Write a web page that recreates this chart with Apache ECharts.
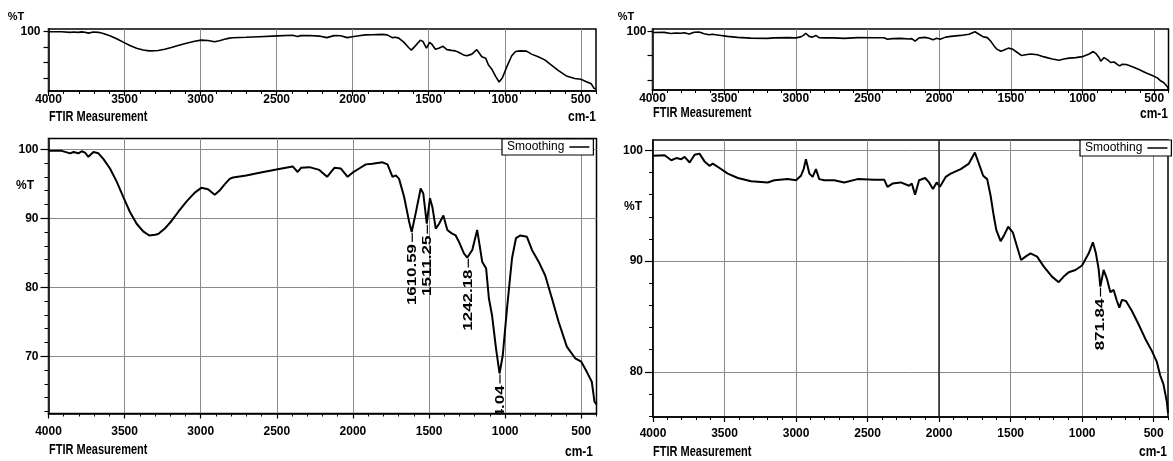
<!DOCTYPE html>
<html>
<head>
<meta charset="utf-8">
<script src="https://cdn.jsdelivr.net/npm/echarts@6/dist/echarts.min.js"></script>
<style>
  html, body { margin: 0; padding: 0; background: #fff; }
  #main { width: 1173px; height: 461px; }
</style>
</head>
<body>
<div id="main"></div>
<script>
// sample A (left spectra), wavenumber cm-1 and %T
var waveA = [4000, 3913, 3858, 3836, 3803, 3782, 3760, 3738, 3705, 3672, 3640, 3596, 3552, 3509, 3465, 3421,
  3378, 3338, 3300, 3279, 3236, 3192, 3148, 3094, 3039, 2996, 2952, 2908, 2876, 2843, 2810, 2788, 2701, 2614,
  2494, 2396, 2363, 2341, 2286, 2221, 2170, 2122, 2079, 2035, 2003, 1959, 1915, 1872, 1806, 1773, 1740, 1718,
  1697, 1664, 1631, 1614, 1588, 1555, 1538, 1515, 1494, 1478, 1456, 1434, 1406, 1380, 1351, 1325, 1304, 1271,
  1249, 1216, 1184, 1168, 1151, 1125, 1107, 1086, 1060, 1037, 1016, 988, 955, 929, 900, 857, 824, 780, 737,
  693, 649, 595, 540, 500, 463, 431, 413, 400];
var transA = [99.76, 99.76, 99.4, 99.6, 99.4, 99.7, 99.5, 98.9, 99.6, 99.4, 98.6, 97.2, 95.3, 93.1, 90.9, 89.2,
  88.1, 87.5, 87.6, 87.7, 88.5, 89.6, 90.9, 92.4, 93.7, 94.4, 94.2, 93.4, 94.0, 94.9, 95.7, 95.9, 96.2, 96.6,
  97.1, 97.5, 96.7, 97.3, 97.4, 97.0, 96.0, 97.3, 97.2, 96.0, 96.6, 97.2, 97.8, 97.9, 98.1, 97.8, 96.0, 96.2,
  95.7, 93.1, 89.5, 88.0, 90.7, 94.3, 93.6, 89.2, 92.9, 91.6, 88.5, 89.2, 90.4, 88.3, 87.8, 87.5, 86.6, 84.9,
  84.3, 85.4, 88.3, 86.1, 83.7, 82.7, 78.4, 75.9, 71.1, 67.5, 70.1, 76.9, 84.2, 87.1, 87.5, 87.3, 85.4, 83.7, 81.7,
  78.4, 75.0, 71.4, 69.7, 69.2, 67.7, 66.3, 63.4, 63.0];

// sample B (right spectra)
var waveB = [4000, 3919, 3872, 3837, 3802, 3779, 3744, 3709, 3675, 3640, 3605, 3582, 3535, 3477, 3407, 3314,
  3198, 3152, 3059, 3000, 2966, 2947, 2931, 2907, 2884, 2861, 2838, 2803, 2733, 2663, 2570, 2454, 2384, 2361,
  2326, 2268, 2210, 2191, 2168, 2140, 2098, 2070, 2043, 2017, 1994, 1954, 1919, 1849, 1792, 1750, 1722, 1692,
  1664, 1640, 1617, 1600, 1570, 1547, 1517, 1485, 1455, 1427, 1396, 1361, 1315, 1268, 1211, 1164, 1129, 1094,
  1047, 1001, 954, 925, 904, 885, 873, 850, 827, 803, 780, 757, 740, 722, 694, 652, 606, 559, 513, 478, 455,
  432, 408, 400];
var transB = [99.5, 99.55, 99.1, 99.3, 99.2, 99.4, 98.9, 99.6, 99.7, 99.0, 98.6, 98.8, 98.4, 97.9, 97.5, 97.2,
  97.1, 97.3, 97.4, 97.3, 97.7, 98.3, 99.2, 97.9, 97.6, 98.3, 97.4, 97.3, 97.3, 97.1, 97.4, 97.35, 97.35, 96.7,
  97.0, 97.1, 96.8, 97.0, 96.0, 97.3, 97.5, 97.1, 96.5, 97.1, 96.7, 97.6, 97.9, 98.3, 98.8, 99.8, 98.8, 97.7,
  97.4, 95.9, 94.0, 92.8, 91.8, 92.3, 93.1, 92.6, 91.3, 90.1, 90.4, 90.7, 90.4, 89.5, 88.6, 88.1, 88.6, 89.0,
  89.2, 89.6, 90.7, 91.7, 90.7, 89.3, 87.7, 89.2, 88.4, 87.2, 87.4, 86.4, 85.8, 86.5, 86.4, 85.5, 84.3, 83.0, 81.9, 80.9, 79.7,
  78.9, 77.3, 76.3];

// peak labels
var peakWaveA = [1610.59, 1511.25, 1242.18, 1034.04];
var peakTA = [88.0, 89.2, 84.3, 67.5];
var peakWaveB = [871.84];
var peakTB = [87.7];

// ticks
var xLabels = [4000, 3500, 3000, 2500, 2000, 1500, 1000, 500];
var yLabelsA = [100, 90, 80, 70];
var yLabelsB = [100, 90, 80];
var yTopLabel = [100];

var xMinor = [];
for (var w = 400; w < 4000; w += 100) xMinor.push(w);
var yMinorA = [];
for (var v = 62; v <= 100; v += 2) yMinorA.push(v);
var yMinorB = [];
for (var u = 76; u <= 100; u += 2) yMinorB.push(u);

var FONT = 'Liberation Sans, Arial, sans-serif';

function pairs(xs, ys) {
  return xs.map(function (x, i) { return [x, ys[i]]; });
}
function plain(val) { return String(val); }

function xMain(grid, margin) {
  return {
    type: 'value', gridIndex: grid, min: 400, max: 4000, inverse: true, position: 'bottom',
    axisLine: { show: true, onZero: false, lineStyle: { color: '#000', width: 1.5 } },
    axisTick: { show: true, customValues: xLabels, length: 5, lineStyle: { color: '#000', width: 1.2 } },
    axisLabel: { customValues: xLabels, formatter: plain, margin: margin, color: '#000', fontSize: 12, fontWeight: 'bold', fontFamily: FONT },
    splitLine: { show: true, lineStyle: { color: '#8a8a8a', width: 1 } }
  };
}
function xMinorAxis(grid) {
  return {
    type: 'value', gridIndex: grid, min: 400, max: 4000, inverse: true, position: 'bottom',
    axisLine: { show: false },
    axisTick: { show: true, customValues: xMinor, length: 3, lineStyle: { color: '#000', width: 1 } },
    axisLabel: { show: false }, splitLine: { show: false }
  };
}
function yAxisMain(grid, min, max, ticks, labels, margin, tickLen, split) {
  return {
    type: 'value', gridIndex: grid, min: min, max: max, position: 'left',
    axisLine: { show: true, lineStyle: { color: '#000', width: 1.5 } },
    axisTick: { show: true, customValues: ticks, length: tickLen, lineStyle: { color: '#000', width: 1.2 } },
    axisLabel: { customValues: labels, formatter: plain, margin: margin, color: '#000', fontSize: 12, fontWeight: 'bold', fontFamily: FONT },
    splitLine: { show: split, lineStyle: { color: '#8a8a8a', width: 1 } }
  };
}
function yMinorAxis(grid, min, max, ticks) {
  return {
    type: 'value', gridIndex: grid, min: min, max: max, position: 'left',
    axisLine: { show: false },
    axisTick: { show: true, customValues: ticks, length: 4, lineStyle: { color: '#000', width: 1 } },
    axisLabel: { show: false }, splitLine: { show: false }
  };
}

function peakItem(params, api) {
  var p = api.coord([api.value(0), api.value(1)]);
  return {
    type: 'group',
    children: [
      { type: 'line', shape: { x1: p[0], y1: p[1] + 1, x2: p[0], y2: p[1] + 10 },
        style: { stroke: '#000', lineWidth: 1.2 } },
      { type: 'text', x: p[0], y: p[1] + 12, rotation: Math.PI / 2, scaleX: 1.3,
        style: { text: api.value(0).toFixed(2), fill: '#000', font: 'bold 13px ' + FONT,
          align: 'right', verticalAlign: 'middle' } }
    ]
  };
}

function legendBox(left, top) {
  return {
    data: ['Smoothing'], left: left, top: top, selectedMode: false, align: 'right',
    icon: 'rect', itemWidth: 20, itemHeight: 1.5, padding: [2, 4, 2, 5],
    borderColor: '#000', borderWidth: 1.2, backgroundColor: '#fff',
    textStyle: { fontSize: 12, color: '#000', fontFamily: FONT }
  };
}

function label(text, x, y, align, size, sy) {
  return { type: 'text', x: x, y: y, scaleY: sy || 1,
    style: { text: text, fill: '#000', font: 'bold ' + size + 'px ' + FONT, align: align, verticalAlign: 'middle' } };
}

var minA = 61.7, maxA = 101.55, minB = 75.93, maxB = 100.93;

var myChart = echarts.init(document.getElementById('main'));

var option = {
  animation: false,
  backgroundColor: '#fff',
  grid: [
    { left: 48.5, top: 29, width: 547.5, height: 62, show: true, borderColor: '#000', borderWidth: 1.5 },
    { left: 48.5, top: 138.5, width: 548, height: 275, show: true, borderColor: '#000', borderWidth: 1.5 },
    { left: 652.5, top: 29, width: 516, height: 61, show: true, borderColor: '#000', borderWidth: 1.5 },
    { left: 653, top: 140, width: 515, height: 277, show: true, borderColor: '#000', borderWidth: 1.5 }
  ],
  xAxis: [
    xMain(0, 3), xMinorAxis(0),
    xMain(1, 12), xMinorAxis(1),
    xMain(2, 3), xMinorAxis(2),
    xMain(3, 11), xMinorAxis(3)
  ],
  yAxis: [
    yAxisMain(0, minA, maxA, yLabelsA, yTopLabel, 8, 5, false),
    yAxisMain(1, minA, maxA, yLabelsA, yLabelsA, 10, 8, true),
    yMinorAxis(1, minA, maxA, yMinorA),
    yAxisMain(2, minB, maxB, yLabelsB, yTopLabel, 6, 5, false),
    yAxisMain(3, minB, maxB, yLabelsB, yLabelsB, 10, 8, true),
    yMinorAxis(3, minB, maxB, yMinorB)
  ],
  legend: [legendBox(502, 139), legendBox(1080, 140)],
  series: [
    { name: 'overviewA', type: 'line', xAxisIndex: 0, yAxisIndex: 0, data: pairs(waveA, transA),
      showSymbol: false, color: '#000', lineStyle: { color: '#000', width: 1.6 } },
    { name: 'Smoothing', type: 'line', xAxisIndex: 2, yAxisIndex: 1, data: pairs(waveA, transA),
      showSymbol: false, color: '#000', itemStyle: { color: '#000' }, lineStyle: { color: '#000', width: 2 } },
    { name: 'overviewB', type: 'line', xAxisIndex: 4, yAxisIndex: 3, data: pairs(waveB, transB),
      showSymbol: false, color: '#000', lineStyle: { color: '#000', width: 1.6 } },
    { name: 'Smoothing', type: 'line', xAxisIndex: 6, yAxisIndex: 4, data: pairs(waveB, transB),
      showSymbol: false, color: '#000', itemStyle: { color: '#000' }, lineStyle: { color: '#000', width: 2 },
      markLine: { silent: true, symbol: 'none', label: { show: false },
        lineStyle: { color: '#222', width: 1.5, type: 'solid' }, data: [{ xAxis: 2000 }] } },
    { name: 'peaksA', type: 'custom', xAxisIndex: 2, yAxisIndex: 1, clip: true,
      data: pairs(peakWaveA, peakTA), renderItem: peakItem },
    { name: 'peaksB', type: 'custom', xAxisIndex: 6, yAxisIndex: 4, clip: true,
      data: pairs(peakWaveB, peakTB), renderItem: peakItem }
  ],
  graphic: [
    label('%T', 16, 17, 'center', 11),
    label('%T', 626, 17, 'center', 11),
    label('%T', 25, 186, 'center', 12),
    label('%T', 633, 207, 'center', 12),
    label('FTIR Measurement', 49, 117, 'left', 11, 1.25),
    label('FTIR Measurement', 653, 113, 'left', 11, 1.25),
    label('FTIR Measurement', 49, 450, 'left', 11, 1.25),
    label('FTIR Measurement', 653, 452, 'left', 11, 1.25),
    label('cm-1', 596, 117, 'right', 12, 1.25),
    label('cm-1', 1168, 114, 'right', 12, 1.25),
    label('cm-1', 593, 452, 'right', 12, 1.25),
    label('cm-1', 1167, 452, 'right', 12, 1.25)
  ]
};

myChart.setOption(option);
</script>
</body>
</html>
